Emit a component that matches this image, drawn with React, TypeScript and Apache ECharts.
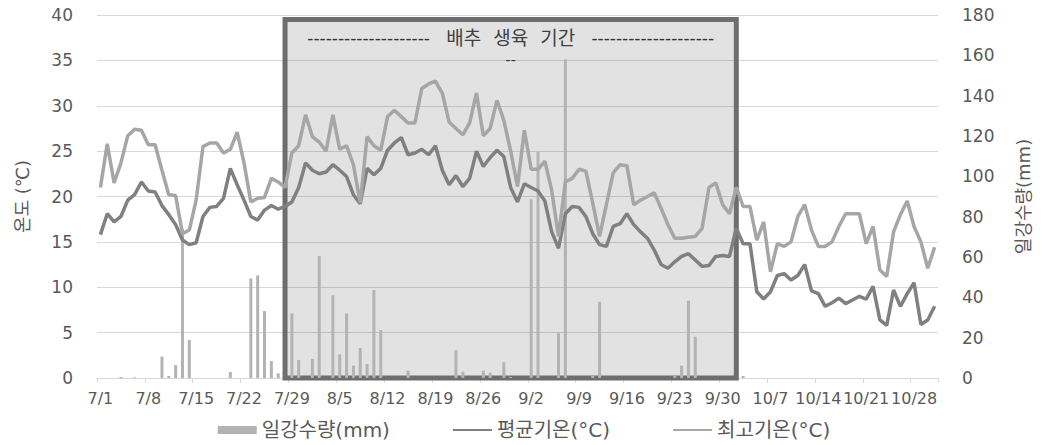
import React, { useEffect, useRef } from "react";
import * as echarts from "echarts";

// Categories: daily dates 7/1 .. 10/31
const monthLengths: [number, number][] = [[7, 31], [8, 31], [9, 30], [10, 31]];
const dates: string[] = [];
monthLengths.forEach(([m, n]) => {
  for (let d = 1; d <= n; d++) dates.push(`${m}/${d}`);
});

// 일강수량 (mm), right axis
const rain = [
  0, 0, 0, 0.5, 0, 0.3, 0, 0, 0, 10.6,
  1, 6.4, 74, 18.8, 0, 0, 0, 0, 0, 3,
  0, 0, 49.4, 50.9, 33.2, 8.4, 2.3, 0, 32, 8.9,
  0, 9.5, 60.5, 0, 41, 11.7, 32, 6.1, 14.9, 6.9,
  43.6, 23.8, 0, 0, 0, 3.6, 0, 0, 0, 0,
  0, 0, 13.7, 3.1, 0, 0, 3.6, 2.6, 0, 7.8,
  0.5, 0, 0, 88.6, 112.2, 0, 0, 22.2, 158, 0,
  0, 0, 1, 37.8, 0, 0, 0, 0, 0, 0,
  0, 0, 0, 0, 1, 6.1, 38.3, 20.5, 0, 0,
  0, 0, 0, 0, 1, 0, 0, 0, 0, 0,
  0, 0, 0, 0, 0, 0, 0, 0, 0, 0,
  0, 0, 0, 0, 0, 0, 0, 0, 0, 0,
  0, 0, 0,
];

// 평균기온 (°C)
const avgTemp = [
  15.8, 18.1, 17.2, 17.8, 19.6, 20.2, 21.6, 20.6, 20.5, 19.0,
  18.0, 16.9, 15.2, 14.7, 14.9, 17.8, 18.8, 18.9, 19.8, 23.1,
  21.3, 19.6, 17.8, 17.4, 18.5, 19.0, 18.6, 18.9, 19.4, 21.0,
  23.7, 22.9, 22.5, 22.7, 23.5, 22.9, 22.2, 20.2, 19.2, 23.1,
  22.4, 23.1, 25.1, 25.9, 26.5, 24.6, 24.8, 25.2, 24.6, 25.6,
  22.9, 21.3, 22.3, 21.1, 22.0, 25.0, 23.3, 24.3, 25.1, 24.4,
  21.0, 19.4, 21.4, 21.0, 20.6, 19.5, 16.1, 14.3, 18.1, 18.9,
  18.8, 17.8, 15.9, 14.7, 14.5, 16.7, 17.0, 18.1, 16.9, 16.1,
  15.4, 14.1, 12.5, 12.1, 12.8, 13.4, 13.7, 13.0, 12.3, 12.4,
  13.4, 13.5, 13.4, 16.5, 14.8, 14.8, 9.5, 8.7, 9.5, 11.3,
  11.5, 10.8, 11.3, 12.5, 9.6, 9.3, 7.9, 8.3, 8.8, 8.2,
  8.6, 9.0, 8.7, 10.1, 6.4, 5.8, 9.7, 7.9, 9.3, 10.5,
  5.9, 6.4, 7.9,
];

// 최고기온 (°C)
const maxTemp = [
  21.0, 25.8, 21.5, 23.7, 26.7, 27.4, 27.3, 25.7, 25.7, 22.9,
  20.2, 20.1, 15.9, 16.3, 19.6, 25.5, 25.9, 25.9, 24.8, 25.2,
  27.1, 23.7, 19.4, 19.8, 19.9, 22.0, 21.6, 21.0, 24.8, 25.6,
  29.0, 26.6, 26.0, 25.0, 29.0, 25.2, 25.6, 23.5, 19.3, 26.6,
  25.6, 25.1, 28.8, 29.5, 28.8, 28.1, 28.1, 31.9, 32.4, 32.7,
  31.4, 28.2, 27.5, 26.8, 28.1, 31.4, 26.7, 27.5, 30.6, 28.4,
  25.0, 21.1, 27.3, 23.0, 23.0, 23.9, 20.7, 15.6, 21.6, 22.0,
  23.0, 22.8, 19.3, 15.6, 19.1, 22.6, 23.5, 23.4, 19.1, 19.6,
  20.0, 20.4, 18.7, 16.9, 15.4, 15.4, 15.5, 15.6, 16.5, 21.0,
  21.5, 19.1, 18.1, 21.0, 18.9, 18.9, 15.2, 17.2, 11.7, 14.8,
  14.5, 15.0, 17.8, 19.1, 16.3, 14.5, 14.5, 15.0, 16.7, 18.1,
  18.1, 18.1, 14.8, 16.7, 11.9, 11.2, 16.1, 18.0, 19.5, 16.7,
  15.0, 12.1, 14.4,
];

// Growing period annotation
const periodStart = "7/28";
const periodEnd = "10/2";
const periodTop = 39.5;
const periodDashes = "--------------------";
const periodTitle = "배추  생육  기간";
const periodLabel2 = "--";

const tempTicks = { min: 0, max: 40, interval: 5 };
const rainTicks = { min: 0, max: 180, interval: 20 };

const FONT = "'DejaVu Sans', 'Noto Sans CJK KR', sans-serif";

export default function App() {
  const ref = useRef<HTMLDivElement>(null);
  useEffect(() => {
    document.body.style.margin = "0";
    if (!ref.current) return;
    const chart = echarts.init(ref.current, null, { renderer: "svg" });
    chart.setOption({
      animation: false,
      textStyle: { fontFamily: FONT },
      grid: { left: 97, right: 110, top: 15, bottom: 67 },
      legend: {
        bottom: 0,
        left: "center",
        itemGap: 62,
        itemWidth: 39,
        itemHeight: 8,
        textStyle: { fontSize: 20, color: "#595959", fontFamily: FONT },
        data: [
          { name: "일강수량(mm)", icon: "rect" },
          { name: "평균기온(°C)", itemStyle: { opacity: 0 } },
          { name: "최고기온(°C)", itemStyle: { opacity: 0 } },
        ],
      },
      xAxis: {
        type: "category",
        data: dates,
        boundaryGap: true,
        axisLine: { lineStyle: { color: "#d9d9d9", width: 1 } },
        axisTick: { show: true, interval: 6, length: 5, lineStyle: { color: "#d9d9d9" } },
        axisLabel: {
          interval: 6,
          hideOverlap: false,
          color: "#595959",
          fontSize: 16,
          margin: 12,
          fontFamily: FONT,
        },
        splitLine: { show: false },
      },
      yAxis: [
        {
          type: "value",
          ...tempTicks,
          name: "온도 (℃)",
          nameLocation: "middle",
          nameRotate: 90,
          nameGap: 66,
          nameTextStyle: { fontSize: 18, color: "#595959", fontFamily: FONT },
          axisLine: { show: false },
          axisTick: { show: false },
          axisLabel: { color: "#595959", fontSize: 17, margin: 24, fontFamily: FONT },
          splitLine: { lineStyle: { color: "#d9d9d9", width: 1 } },
        },
        {
          type: "value",
          ...rainTicks,
          name: "일강수량(mm)",
          nameLocation: "middle",
          nameRotate: 90,
          nameGap: 76,
          nameTextStyle: { fontSize: 18, color: "#595959", fontFamily: FONT },
          axisLine: { show: false },
          axisTick: { show: false },
          axisLabel: { color: "#595959", fontSize: 17, margin: 24, fontFamily: FONT },
          splitLine: { show: false },
        },
      ],
      series: [
        {
          name: "boxFill",
          type: "line",
          yAxisIndex: 0,
          data: [],
          z: 1,
          silent: true,
          markArea: {
            silent: true,
            itemStyle: { color: "rgba(0,0,0,0.115)", borderWidth: 0 },
            label: {
              show: true,
              position: "insideTop",
              distance: 33,
              color: "#333333",
              fontSize: 14,
              fontFamily: FONT,
              formatter: () => periodLabel2,
            },
            data: [[{ xAxis: periodStart, yAxis: 0 }, { xAxis: periodEnd, yAxis: periodTop }]],
          },
        },
        {
          name: "일강수량(mm)",
          type: "bar",
          yAxisIndex: 1,
          data: rain,
          barWidth: 3,
          itemStyle: { color: "#b3b3b3" },
          z: 2,
        },
        {
          name: "평균기온(°C)",
          type: "line",
          yAxisIndex: 0,
          data: avgTemp,
          symbol: "none",
          lineStyle: { color: "#808080", width: 3.5 },
          itemStyle: { color: "#808080" },
          z: 3,
        },
        {
          name: "최고기온(°C)",
          type: "line",
          yAxisIndex: 0,
          data: maxTemp,
          symbol: "none",
          lineStyle: { color: "#a6a6a6", width: 3.5 },
          itemStyle: { color: "#a6a6a6" },
          z: 4,
        },
        {
          name: "boxBorder",
          type: "line",
          yAxisIndex: 0,
          data: [],
          z: 10,
          silent: true,
          markArea: {
            silent: true,
            itemStyle: { color: "rgba(0,0,0,0)", borderColor: "#6e6e6e", borderWidth: 5 },
            label: {
              show: true,
              position: "insideTop",
              distance: 11,
              color: "#333333",
              fontSize: 17,
              fontFamily: FONT,
              formatter: () => `{d|${periodDashes}}{d|   }{k|${periodTitle}}{d|   }{d|${periodDashes}}`,
              rich: {
                d: { fontSize: 17, color: "#333333", fontFamily: FONT },
                k: { fontSize: 19, color: "#404040", fontFamily: FONT },
              },
            },
            data: [[{ xAxis: periodStart, yAxis: 0 }, { xAxis: periodEnd, yAxis: periodTop }]],
          },
        },
      ],
    });
    return () => chart.dispose();
  }, []);
  return <div ref={ref} style={{ width: 1048, height: 445 }} />;
}
